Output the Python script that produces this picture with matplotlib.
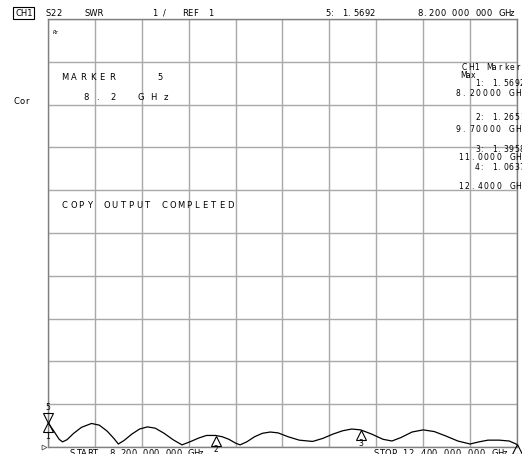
import matplotlib
matplotlib.use("Agg")
import matplotlib.pyplot as plt
import matplotlib.transforms as mtransforms

# trace S22 SWR (GHz, SWR)
freq = [8.20, 8.25, 8.30, 8.33, 8.37, 8.43, 8.50, 8.59, 8.66, 8.73, 8.79, 8.83,
        8.88, 8.95, 9.02, 9.09, 9.16, 9.24, 9.32, 9.40, 9.47, 9.55, 9.62, 9.70,
        9.76, 9.82, 9.88, 9.92, 9.98, 10.05, 10.12, 10.19, 10.26, 10.35, 10.45,
        10.57, 10.66, 10.75, 10.84, 10.92, 11.00, 11.10, 11.20, 11.28, 11.36,
        11.46, 11.56, 11.66, 11.76, 11.87, 11.98, 12.06, 12.14, 12.24, 12.33, 12.40]
swr = [1.57, 1.38, 1.18, 1.12, 1.17, 1.32, 1.46, 1.55, 1.51, 1.37, 1.20, 1.07,
       1.15, 1.30, 1.42, 1.47, 1.44, 1.32, 1.17, 1.05, 1.12, 1.21, 1.27, 1.27,
       1.24, 1.18, 1.09, 1.05, 1.12, 1.24, 1.32, 1.35, 1.33, 1.24, 1.16,
       1.13, 1.20, 1.30, 1.38, 1.42, 1.40, 1.30, 1.18, 1.14, 1.22,
       1.35, 1.40, 1.36, 1.26, 1.14, 1.07, 1.12, 1.16, 1.16, 1.14, 1.06]

# markers
mk_num = [1, 2, 3, 4, 5]
mk_freq = [8.2, 9.7, 11.0, 12.4, 8.2]
mk_swr = [1.5692, 1.2651, 1.3958, 1.0637, 1.5692]

W, H = 522, 454
fig = plt.figure(figsize=(W / 100, H / 100), dpi=100, facecolor="w")
ax = fig.add_axes([48 / W, 7 / H, 469 / W, 428 / H])

ax.plot(freq, swr, color="k", lw=0.9, zorder=3)
ax.set_xlim(8.2, 12.4)
ax.set_ylim(1, 11)
ax.set_xticks([8.2 + 0.42 * i for i in range(11)])
ax.set_yticks(range(1, 12))
ax.grid(color="#a8a8a8", lw=1.0)
ax.tick_params(length=0, labelbottom=False, labelleft=False)
for s in ax.spines.values():
    s.set_color("#808080")
    s.set_linewidth(1.0)

# marker triangles, tip sitting on the trace
ms = 7
up = mtransforms.offset_copy(ax.transData, fig, x=0, y=-ms / 2, units="points")
down = mtransforms.offset_copy(ax.transData, fig, x=0, y=ms / 2, units="points")
for n, f, v in zip(mk_num, mk_freq, mk_swr):
    if n == 5:
        ax.plot(f, v, marker="v", ms=ms, mfc="none", mec="k", mew=0.8,
                transform=down, clip_on=False, zorder=4)
        lab = mtransforms.offset_copy(ax.transData, fig, x=0, y=ms + 4, units="points")
        ax.text(f, v, str(n), transform=lab, fontsize=5.5, ha="center", va="center")
    else:
        ax.plot(f, v, marker="^", ms=ms, mfc="none", mec="k", mew=0.8,
                transform=up, clip_on=False, zorder=4)
        if n != 4:
            lab = mtransforms.offset_copy(ax.transData, fig, x=0, y=-ms - 3, units="points")
            ax.text(f, v, str(n), transform=lab, fontsize=5.5, ha="center", va="center")

# reference level pointer
ref = mtransforms.offset_copy(ax.transData, fig, x=-3, y=0, units="points")
ax.plot(8.2, 1, marker=">", ms=3.5, mfc="none", mec="#555555", mew=0.6,
        transform=ref, clip_on=False)


def put(x, y, s, size=6, ha="left", pitch=None, **kw):
    # place text with pixel coords measured from the top-left corner
    if pitch is None:
        fig.text(x / W, 1 - y / H, s, fontsize=size, ha=ha, va="center", **kw)
    else:
        for i, c in enumerate(s):
            if c != " ":
                fig.text((x + i * pitch) / W, 1 - y / H, c, fontsize=size,
                         ha="left", va="center", **kw)


# header
put(15, 13, "CH1", bbox=dict(boxstyle="square,pad=0.2", fc="w", ec="k", lw=0.8))
put(45, 13, "S22", pitch=5.8)
put(85, 13, "SWR")
put(152, 13, "1")
put(163, 13, "/")
put(182, 13, "REF", pitch=5.6)
put(208, 13, "1")
put(325, 13, "5: 1.5692", pitch=5.6)
put(417, 13, "8.200 000 000 GHz", pitch=5.8)

put(53, 33, "Pz", size=3.5, style="italic")
put(13, 101, "Cor", pitch=6)
put(61, 78, "MARKER    5", pitch=9.6)
put(83, 97, "8.2 GHz", pitch=13.5)
put(62, 205, "COPY OUTPUT COMPLETED", pitch=8.25)

# marker table on the right, cut by the screen edge
put(462, 67, "CH1 Markers", size=5.5, pitch=6.0)
put(460, 75, "Max", size=5.5, pitch=5.5)
put(475, 84, "1: 1.5692", size=5.5, pitch=5.6)
put(456, 93, "8.20000 GHz", size=5.5, pitch=6.6)
put(475, 118, "2: 1.2651", size=5.5, pitch=5.6)
put(456, 129, "9.70000 GHz", size=5.5, pitch=6.6)
put(475, 150, "3: 1.3958", size=5.5, pitch=5.6)
put(458, 158, "11.0000 GHz", size=5.5, pitch=6.4)
put(475, 168, "4: 1.0637", size=5.5, pitch=5.6)
put(458, 186, "12.4000 GHz", size=5.5, pitch=6.4)

# footer
put(70, 454, "START  8.200 000 000 GHz", pitch=5.6)
put(373, 454, "STOP 12.400 000 000 GHz", pitch=5.9)

fig.savefig("out.png", dpi=100, facecolor="w")
